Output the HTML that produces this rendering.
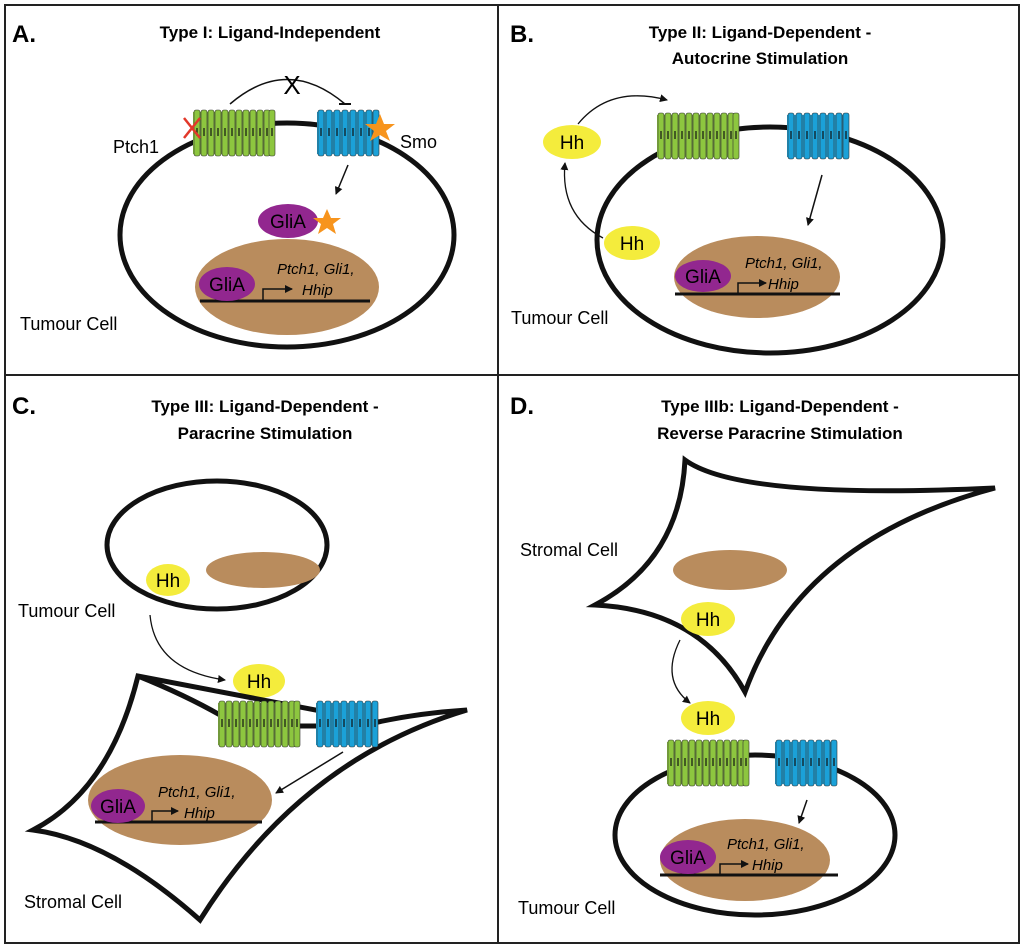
<!DOCTYPE html>
<html><head><meta charset="utf-8"><style>
html,body{margin:0;padding:0;background:#fff}
svg{display:block}
text{font-family:"Liberation Sans",sans-serif}
.t{font-weight:bold;font-size:17px;text-anchor:middle}
.l{font-size:18px}
.it{font-style:italic;font-size:15px}
</style></head><body>
<svg width="1024" height="948" viewBox="0 0 1024 948" xmlns="http://www.w3.org/2000/svg">
<defs>
<marker id="ar" markerWidth="8" markerHeight="8" refX="7" refY="4" orient="auto" markerUnits="userSpaceOnUse"><path d="M0,0 L8,4 L0,8 z" fill="#111"/></marker>
<g id="cyl"><rect x="0" y="0" width="6" height="46" rx="2" stroke="#333" stroke-width="0.6"/><line x1="3" y1="18" x2="3" y2="26" stroke="#111" stroke-width="1.2"/></g>
<g id="ptch" fill="#8dc63f"><rect x="0" y="2" width="82" height="42" fill="#8dc63f"/>
<use href="#cyl" x="1"/><use href="#cyl" x="8"/><use href="#cyl" x="15"/><use href="#cyl" x="22"/><use href="#cyl" x="29"/><use href="#cyl" x="36"/><use href="#cyl" x="43"/><use href="#cyl" x="50"/><use href="#cyl" x="57"/><use href="#cyl" x="64"/><use href="#cyl" x="71"/><use href="#cyl" x="76"/></g>
<g id="smo" fill="#1ba1d8"><rect x="0" y="2" width="62" height="42" fill="#1ba1d8"/>
<use href="#cyl" x="1"/><use href="#cyl" x="9"/><use href="#cyl" x="17"/><use href="#cyl" x="25"/><use href="#cyl" x="33"/><use href="#cyl" x="41"/><use href="#cyl" x="49"/><use href="#cyl" x="56"/></g>
</defs>
<rect x="5" y="5" width="1014" height="938" fill="none" stroke="#222" stroke-width="2"/>
<line x1="498" y1="5" x2="498" y2="943" stroke="#222" stroke-width="2"/>
<line x1="5" y1="375" x2="1019" y2="375" stroke="#222" stroke-width="2"/>

<!-- Panel A -->
<text x="12" y="42" font-size="24" font-weight="bold">A.</text>
<text x="270" y="38" class="t">Type I: Ligand-Independent</text>
<ellipse cx="287" cy="235" rx="167" ry="112" fill="none" stroke="#111" stroke-width="5"/>
<ellipse cx="287" cy="287" rx="92" ry="48" fill="#b98c5d"/>
<line x1="200" y1="301" x2="370" y2="301" stroke="#111" stroke-width="3"/>
<ellipse cx="227" cy="284" rx="28" ry="17" fill="#92278f"/>
<text x="227" y="291" font-size="19" text-anchor="middle">GliA</text>
<path d="M263,300 V289 H292" fill="none" stroke="#111" stroke-width="1.5" marker-end="url(#ar)"/>
<text x="277" y="274" class="it">Ptch1, Gli1,</text><text x="302" y="295" class="it">Hhip</text>
<use href="#ptch" x="193" y="110"/><use href="#smo" x="317" y="110"/>
<path d="M230,104 Q287,55 345,104" fill="none" stroke="#111" stroke-width="1.5"/>
<line x1="339" y1="104" x2="351" y2="104" stroke="#111" stroke-width="2"/>
<text x="292" y="94" font-size="26" text-anchor="middle">X</text>
<path d="M184,118 L200,138 M200,118 L184,138" stroke="#e2382a" stroke-width="2.5"/>
<polygon points="380,114 384,124 395,124 386,131 390,141 380,135 370,141 374,131 365,124 376,124" fill="#f7941d"/>
<text x="113" y="153" class="l">Ptch1</text><text x="400" y="148" class="l">Smo</text>
<line x1="348" y1="165" x2="336" y2="194" stroke="#111" stroke-width="1.5" marker-end="url(#ar)"/>
<ellipse cx="288" cy="221" rx="30" ry="17" fill="#92278f"/>
<text x="288" y="228" font-size="19" text-anchor="middle">GliA</text>
<polygon points="327,209 331,218 341,218 333,224 336,234 327,228 318,234 321,224 313,218 323,218" fill="#f7941d"/>
<text x="20" y="330" class="l">Tumour Cell</text>

<!-- Panel B -->
<text x="510" y="42" font-size="24" font-weight="bold">B.</text>
<text x="760" y="38" class="t">Type II: Ligand-Dependent -</text>
<text x="760" y="64" class="t">Autocrine Stimulation</text>
<ellipse cx="770" cy="240" rx="173" ry="113" fill="none" stroke="#111" stroke-width="5"/>
<ellipse cx="757" cy="277" rx="83" ry="41" fill="#b98c5d"/>
<line x1="675" y1="294" x2="840" y2="294" stroke="#111" stroke-width="3"/>
<ellipse cx="703" cy="276" rx="28" ry="16" fill="#92278f"/>
<text x="703" y="283" font-size="19" text-anchor="middle">GliA</text>
<path d="M738,293 V283 H766" fill="none" stroke="#111" stroke-width="1.5" marker-end="url(#ar)"/>
<text x="745" y="268" class="it">Ptch1, Gli1,</text><text x="768" y="289" class="it">Hhip</text>
<use href="#ptch" x="657" y="113"/><use href="#smo" x="787" y="113"/>
<line x1="822" y1="175" x2="808" y2="225" stroke="#111" stroke-width="1.5" marker-end="url(#ar)"/>
<ellipse cx="572" cy="142" rx="29" ry="17" fill="#f4ec3c"/><text x="572" y="149" font-size="19" text-anchor="middle">Hh</text>
<ellipse cx="632" cy="243" rx="28" ry="17" fill="#f4ec3c"/><text x="632" y="250" font-size="19" text-anchor="middle">Hh</text>
<path d="M603,238 Q560,215 565,163" fill="none" stroke="#111" stroke-width="1.3" marker-end="url(#ar)"/>
<path d="M578,124 Q610,85 667,100" fill="none" stroke="#111" stroke-width="1.3" marker-end="url(#ar)"/>
<text x="511" y="324" class="l">Tumour Cell</text>

<!-- Panel C -->
<text x="12" y="414" font-size="24" font-weight="bold">C.</text>
<text x="265" y="412" class="t">Type III: Ligand-Dependent -</text>
<text x="265" y="439" class="t">Paracrine Stimulation</text>
<ellipse cx="217" cy="545" rx="110" ry="64" fill="none" stroke="#111" stroke-width="5"/>
<ellipse cx="263" cy="570" rx="57" ry="18" fill="#b98c5d"/>
<ellipse cx="168" cy="580" rx="22" ry="16" fill="#f4ec3c"/><text x="168" y="587" font-size="19" text-anchor="middle">Hh</text>
<text x="18" y="617" class="l">Tumour Cell</text>
<path d="M150,615 Q155,670 225,680" fill="none" stroke="#111" stroke-width="1.3" marker-end="url(#ar)"/>
<ellipse cx="259" cy="681" rx="26" ry="17" fill="#f4ec3c"/><text x="259" y="688" font-size="19" text-anchor="middle">Hh</text>
<path d="M138,676 Q185,695 220,715 M300,726 L316,726 M378,722 Q420,713 467,710 Q300,760 200,920 Q110,840 33,830 Q110,790 138,676 Z" fill="none" stroke="#111" stroke-width="5" stroke-linejoin="miter"/>
<use href="#ptch" x="218" y="701"/><use href="#smo" x="316" y="701"/>
<ellipse cx="180" cy="800" rx="92" ry="45" fill="#b98c5d"/>
<line x1="95" y1="822" x2="262" y2="822" stroke="#111" stroke-width="3"/>
<ellipse cx="118" cy="806" rx="27" ry="17" fill="#92278f"/>
<text x="118" y="813" font-size="19" text-anchor="middle">GliA</text>
<path d="M152,821 V811 H178" fill="none" stroke="#111" stroke-width="1.5" marker-end="url(#ar)"/>
<text x="158" y="797" class="it">Ptch1, Gli1,</text><text x="184" y="818" class="it">Hhip</text>
<line x1="343" y1="752" x2="276" y2="793" stroke="#111" stroke-width="1.5" marker-end="url(#ar)"/>
<text x="24" y="908" class="l">Stromal Cell</text>

<!-- Panel D -->
<text x="510" y="414" font-size="24" font-weight="bold">D.</text>
<text x="780" y="412" class="t">Type IIIb: Ligand-Dependent -</text>
<text x="780" y="439" class="t">Reverse Paracrine Stimulation</text>
<path d="M685,460 Q740,500 995,488 Q800,540 745,692 Q700,610 595,605 Q680,560 685,460 Z" fill="none" stroke="#111" stroke-width="5"/>
<ellipse cx="730" cy="570" rx="57" ry="20" fill="#b98c5d"/>
<text x="520" y="556" class="l">Stromal Cell</text>
<ellipse cx="708" cy="619" rx="27" ry="17" fill="#f4ec3c"/><text x="708" y="626" font-size="19" text-anchor="middle">Hh</text>
<path d="M680,640 Q660,680 690,703" fill="none" stroke="#111" stroke-width="1.3" marker-end="url(#ar)"/>
<ellipse cx="708" cy="718" rx="27" ry="17" fill="#f4ec3c"/><text x="708" y="725" font-size="19" text-anchor="middle">Hh</text>
<ellipse cx="755" cy="835" rx="140" ry="80" fill="none" stroke="#111" stroke-width="5"/>
<use href="#ptch" x="667" y="740"/><use href="#smo" x="775" y="740"/>
<ellipse cx="745" cy="860" rx="85" ry="41" fill="#b98c5d"/>
<line x1="660" y1="875" x2="838" y2="875" stroke="#111" stroke-width="3"/>
<ellipse cx="688" cy="857" rx="28" ry="17" fill="#92278f"/>
<text x="688" y="864" font-size="19" text-anchor="middle">GliA</text>
<path d="M720,874 V864 H748" fill="none" stroke="#111" stroke-width="1.5" marker-end="url(#ar)"/>
<text x="727" y="849" class="it">Ptch1, Gli1,</text><text x="752" y="870" class="it">Hhip</text>
<line x1="807" y1="800" x2="799" y2="823" stroke="#111" stroke-width="1.5" marker-end="url(#ar)"/>
<text x="518" y="914" class="l">Tumour Cell</text>
</svg>
</body></html>
